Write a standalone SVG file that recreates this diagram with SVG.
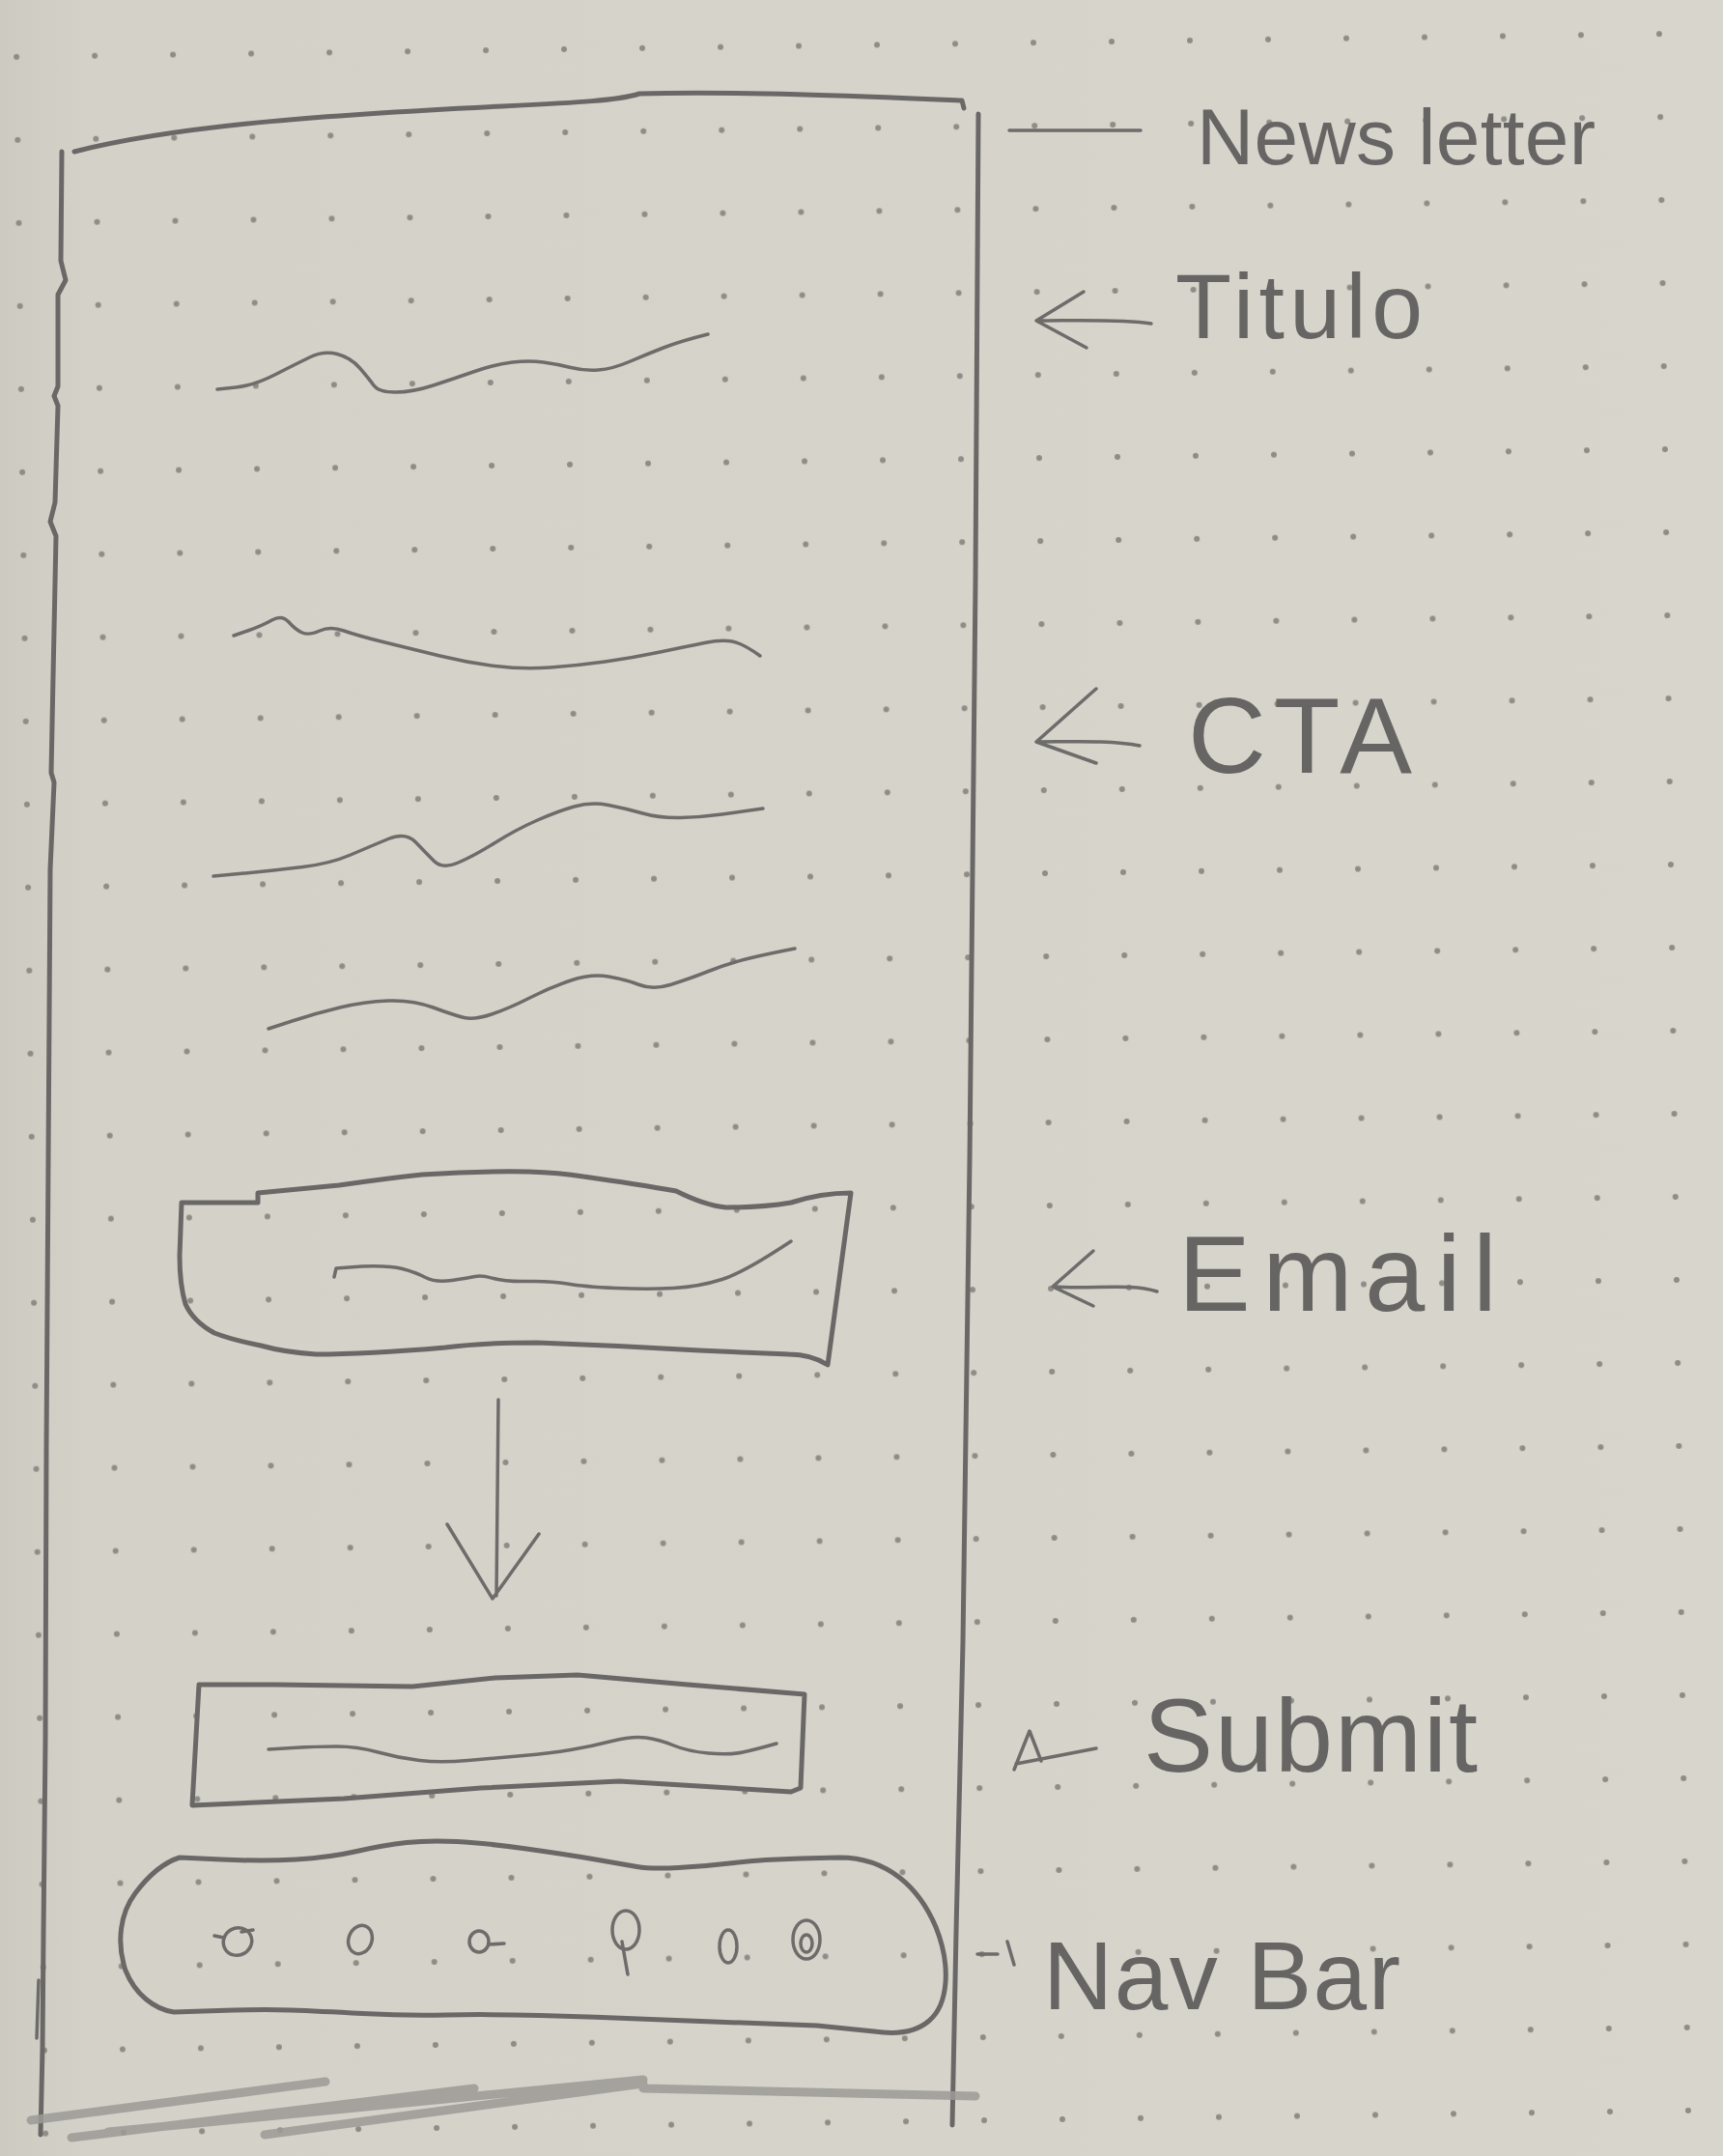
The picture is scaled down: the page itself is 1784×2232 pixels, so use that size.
<svg xmlns="http://www.w3.org/2000/svg" width="1784" height="2232" viewBox="0 0 1784 2232">
<defs>
<linearGradient id="paper" x1="0" y1="0" x2="1" y2="0">
<stop offset="0" stop-color="#cdcac2"/>
<stop offset="0.05" stop-color="#d4d1c9"/>
<stop offset="1" stop-color="#d8d5cd"/>
</linearGradient>
<pattern id="dots" width="81" height="86" patternUnits="userSpaceOnUse" patternTransform="rotate(-0.8 1157 473)">
<circle cx="23" cy="43" r="3" fill="#8f8c87"/>
</pattern>
<style>
.pen{fill:none;stroke:#6a6866;stroke-width:5;stroke-linecap:round;stroke-linejoin:round}
.thin{fill:none;stroke:#6e6c6a;stroke-width:3.5;stroke-linecap:round;stroke-linejoin:round}
.shade{fill:none;stroke:#9c9a96;stroke-width:9;stroke-linecap:round;opacity:0.85}
.lbl{font-family:"Liberation Sans",Arial,sans-serif;fill:#676563}
</style>
</defs>
<rect width="1784" height="2232" fill="url(#paper)"/>
<rect width="1784" height="2232" fill="url(#dots)"/>

<g id="frame">
<path class="pen" d="M77 157 C190 128 360 118 520 110 C600 106 640 104 662 97 C760 94 900 100 996 104 L998 112"/>
<path class="pen" stroke-width="4" d="M1013 118 L1010 600 L1004 1200 L997 1700 L990 2000 L986 2200"/>
<polyline class="pen" stroke-width="4" points="64,157 63,270 68,290 60,305 60,400 56,410 60,420 57,520 52,540 58,555 55,700 53,800 56,810 52,900 50,1200 48,1500 47,1800 45,2000 44,2120 42,2210"/>
<path class="thin" d="M40 2050 L38 2110"/>
<path class="shade" d="M32 2195 L337 2155 M74 2213 L491 2162 M112 2207 L666 2153 M274 2210 L666 2157 M666 2162 L1010 2170"/>
</g>

<g id="titulo">
<path class="thin" d="M225 403 L244 401 Q263 399 284.5 388 Q306 377 320.5 370 Q335 363 349 366.5 Q363 370 372.5 381 Q382 392 387 399 Q392 406 409.5 406 Q427 406 448.5 399 Q470 392 491.5 384.5 Q513 377 530.5 375 Q548 373 562.5 375 Q577 377 591 380.5 Q605 384 619.5 383 Q634 382 651.5 374.5 Q669 367 687 360 Q705 353 733 346"/>
</g>

<g id="cta">
<path class="thin" d="M242 658 L256.5 653 Q271 648 281.5 642 Q292 636 299 644 Q306 652 313 655 Q320 658 331 653 Q342 648 356 653 Q370 658 398.5 665 Q427 672 455.5 679 Q484 686 512.5 689.5 Q541 693 569.5 691 Q598 689 626.5 685 Q655 681 683.5 675 Q712 669 729.5 665.5 Q747 662 758 664 Q769 666 787 679"/>
<path class="thin" d="M221 907 L253 904 Q285 901 313.5 897.5 Q342 894 363 885 Q384 876 402 868.5 Q420 861 430.5 872 Q441 883 449.5 891.5 Q458 900 474.5 893 Q491 886 512.5 872.5 Q534 859 555.5 849.5 Q577 840 594.5 835 Q612 830 630 833.5 Q648 837 665.5 842 Q683 847 704.5 846.5 Q726 846 747.5 843 Q769 840 790 837"/>
<path class="thin" d="M278 1065 L302.5 1057 Q327 1049 352 1043 Q377 1037 402 1036 Q427 1035 448.5 1043 Q470 1051 480.5 1053.5 Q491 1056 509 1050 Q527 1044 548.5 1033 Q570 1022 591 1015 Q612 1008 630 1011 Q648 1014 662 1019.5 Q676 1025 694 1019.5 Q712 1014 733.5 1005.5 Q755 997 776 992 Q797 987 823 982"/>
</g>

<g id="email">
<path class="pen" d="M188 1245 L267 1245 L267 1235 Q300 1232 351 1227 Q400 1220 437 1216 Q500 1212 547 1213 Q580 1214 604 1218 Q660 1226 700 1233 Q730 1248 752 1250 Q790 1250 819 1245 Q850 1235 881 1235 L857 1413 Q840 1402 817 1402 L724 1398 Q640 1393 556 1390 Q500 1390 461 1395 Q380 1402 327 1402 Q295 1400 270 1393 Q240 1387 222 1380 Q200 1368 192 1350 Q186 1330 186 1300 Z"/>
<path class="thin" d="M346 1322 L348 1313 L375 1311 Q403 1310 416.5 1313.5 Q430 1317 440.5 1322.5 Q451 1328 468 1325.5 Q485 1323 492 1321.5 Q499 1320 511 1323.5 Q523 1327 547 1326.5 Q571 1326 587.5 1329 Q604 1332 637.5 1333.5 Q671 1335 697.5 1333.5 Q724 1332 747.5 1324.5 Q771 1317 819 1285"/>
</g>

<g id="submit">
<path class="pen" d="M206 1744 L285 1744 L427 1746 L513 1737 L598 1734 L712 1744 L833 1754 L829 1851 L819 1855 L641 1844 L498 1851 L356 1862 L199 1869 Z"/>
<path class="thin" d="M278 1811 L302.5 1809.5 Q327 1808 348.5 1808 Q370 1808 391.5 1814 Q413 1820 434.5 1822.5 Q456 1825 484.5 1822.5 Q513 1820 541.5 1817.5 Q570 1815 591 1811.5 Q612 1808 633.5 1802.5 Q655 1797 669 1799 Q683 1801 697.5 1807 Q712 1813 733.5 1815 Q755 1817 769 1814 Q783 1811 804 1805"/>
</g>

<g id="navbar">
<path class="pen" d="M186 1923 L229 1925 Q272 1927 306.5 1925 Q341 1923 369.5 1916.5 Q398 1910 421 1907.5 Q444 1905 473 1906.5 Q502 1908 545 1914 Q588 1920 616.5 1925 Q645 1930 659.5 1932.5 Q674 1935 702.5 1933.5 Q731 1932 760 1928.5 Q789 1925 829 1924 L869 1923 C920 1923 952 1955 969 1995 C985 2035 982 2075 962 2092 C947 2105 925 2106 905 2103 L846 2097 Q731 2093 674 2090.5 Q617 2088 559.5 2086.5 Q502 2085 461.5 2086 Q421 2087 375.5 2084.5 Q330 2082 301 2081 Q272 2080 226 2081.5 L180 2083 C160 2080 140 2065 130 2040 C120 2010 125 1980 140 1960 C155 1940 170 1928 186 1923 Z"/>
<g class="thin">
<ellipse cx="246" cy="2010" rx="15" ry="14" transform="rotate(-30 246 2010)"/>
<path d="M232 2006 L222 2004 M250 2000 L262 1998"/>
<ellipse cx="373" cy="2008" rx="12" ry="15" transform="rotate(20 373 2008)"/>
<ellipse cx="496" cy="2010" rx="10" ry="11"/>
<path d="M506 2013 L522 2012"/>
<ellipse cx="648" cy="1998" rx="14" ry="20"/>
<path d="M644 2010 L650 2044"/>
<ellipse cx="754" cy="2015" rx="9" ry="17"/>
<ellipse cx="835" cy="2008" rx="14" ry="20"/>
<ellipse cx="835" cy="2012" rx="6" ry="9"/>
</g>
</g>

<g id="connectors">
<path class="thin" d="M1045 135 L1181 135"/>
<path class="thin" d="M1192 335 C1160 330 1110 332 1073 332 M1122 302 L1073 332 L1125 360"/>
<path class="thin" d="M1180 772 C1150 766 1110 768 1073 768 M1135 713 L1073 768 L1135 790"/>
<path class="thin" d="M1198 1337 C1170 1328 1130 1335 1090 1332 M1132 1295 L1090 1332 L1132 1352"/>
<path class="thin" d="M1050 1832 L1066 1792 L1078 1823 M1052 1826 L1135 1810"/>
<path class="thin" d="M1012 2023 L1033 2023 M1043 2010 L1050 2034"/>
<path class="thin" d="M516 1449 L514 1652 M463 1578 L510 1655 L558 1588"/>
</g>

<g id="labels">
<text class="lbl" x="1239" y="170" font-size="82" textLength="413" lengthAdjust="spacing">News letter</text>
<text class="lbl" x="1217" y="350" font-size="95" textLength="256" lengthAdjust="spacing">Titulo</text>
<text class="lbl" x="1230" y="800" font-size="112" textLength="232" lengthAdjust="spacing">CTA</text>
<text class="lbl" x="1220" y="1357" font-size="112" textLength="330" lengthAdjust="spacing">Email</text>
<text class="lbl" x="1184" y="1834" font-size="108" textLength="346" lengthAdjust="spacing">Submit</text>
<text class="lbl" x="1080" y="2080" font-size="100" textLength="370" lengthAdjust="spacing">Nav Bar</text>
</g>
</svg>
